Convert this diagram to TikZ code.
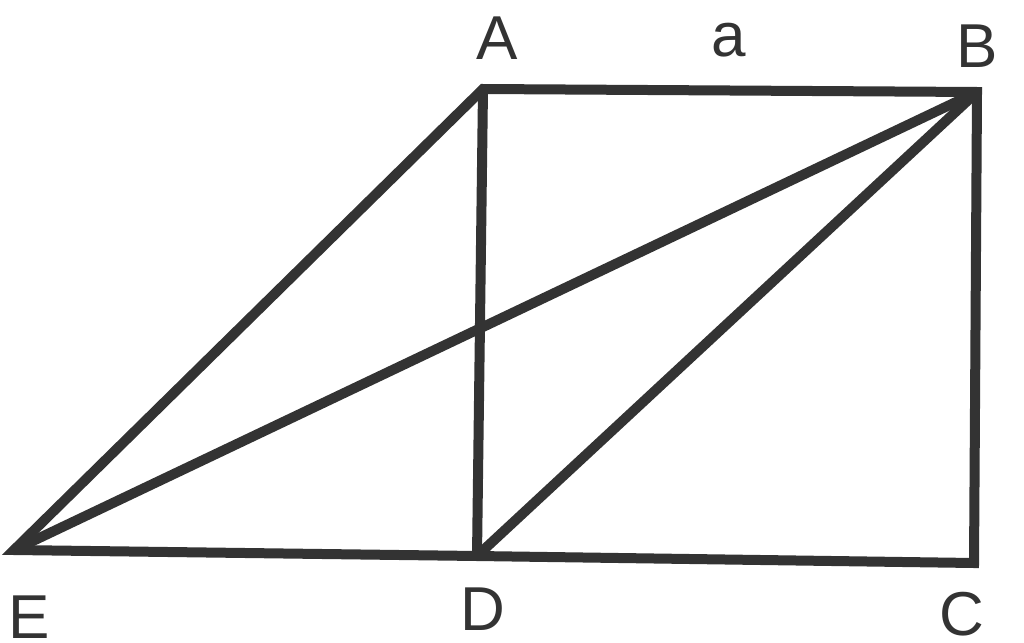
\documentclass[tikz,border=0pt]{standalone}
\usepackage{fontspec}
\setmainfont{Liberation Sans}
\begin{document}
\begin{tikzpicture}[x=1pt,y=-1pt,
  edge/.style={draw=black!80,line width=10pt},
  lbl/.style={font=\fontsize{62}{62}\selectfont,text=black!80,inner sep=0pt}]
\useasboundingbox (0,0) rectangle (1024,642);
\coordinate (A) at (483,89);
\coordinate (B) at (977,92);
\coordinate (C) at (974,563);
\coordinate (D) at (477,556);
\coordinate (E) at (14,550);
\draw[edge] (A) -- (B) -- (C) -- (D) -- (E) -- cycle;
\draw[edge] (A) -- (D);
\draw[edge] (E) -- (B);
\draw[edge] (D) -- (B);
\node[lbl] (lA) at (497,38) {A};
\node[lbl] (la) at (729,40) {a};
\node[lbl] (lB) at (977,46) {B};
\node[lbl] (lE) at (29,617) {E};
\node[lbl] (lD) at (483,609) {D};
\node[lbl] (lC) at (962,614) {C};
\end{tikzpicture}
\end{document}
